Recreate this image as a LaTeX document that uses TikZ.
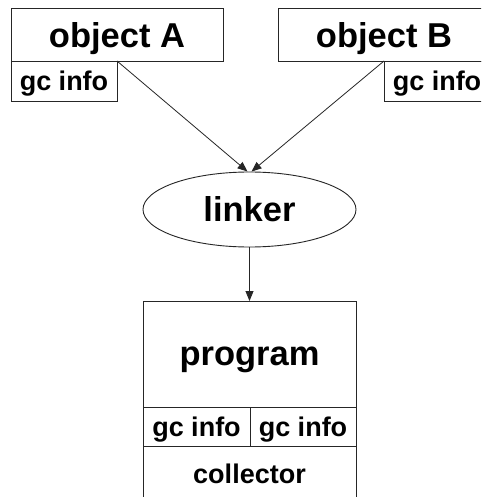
\documentclass[tikz,border=0pt]{standalone}
\usepackage{fontspec}
\setmainfont{Liberation Sans}
\usetikzlibrary{arrows.meta,shapes.geometric}
\tikzset{
  x=1pt, y=-1pt,
  frame/.style={draw=black!85, line width=0.9pt, rectangle, inner sep=0pt, outer sep=0pt},
  bigtext/.style={font=\fontsize{34.5}{34.5}\selectfont\bfseries, text height=25pt, text depth=0pt},
  smalltext/.style={font=\fontsize{27}{27}\selectfont\bfseries, text height=20pt, text depth=0pt},
  link/.style={draw=black!85, line width=0.8pt, -{Triangle[length=10pt,width=8pt]}},
}
\begin{document}
\begin{tikzpicture}
\clip (0,0) rectangle (481,497);
\fill[white] (0,0) rectangle (481,497);

% source objects with their gc info tabs
\node[frame, bigtext, minimum width=212pt, minimum height=52.5pt] (objA) at (117,34.75) {object A};
\node[frame, smalltext, minimum width=106pt, minimum height=40pt] (gcA) at (64,81) {gc info};
\node[frame, bigtext, minimum width=212pt, minimum height=52.5pt] (objB) at (384,34.75) {object B};
\node[frame, smalltext, minimum width=106pt, minimum height=40pt] (gcB) at (437,81) {gc info};

% linker
\node[draw=black!85, line width=0.9pt, ellipse, inner sep=0pt, minimum width=213pt, minimum height=75pt,
      font=\fontsize{34.5}{34.5}\selectfont\bfseries, text height=24pt, text depth=0pt] (linker) at (249.5,209.5) {linker};

% resulting program with collector
\node[frame, bigtext, text height=22pt, minimum width=213pt, minimum height=106pt] (prog) at (249.5,354) {program};
\node[frame, smalltext, minimum width=107pt, minimum height=39pt] (gc1) at (196.5,426.5) {gc info};
\node[frame, smalltext, minimum width=106pt, minimum height=39pt] (gc2) at (303,426.5) {gc info};
\node[frame, smalltext, text height=18pt, minimum width=213pt, minimum height=56pt] (coll) at (249.5,474) {collector};

% connectors
\draw[link] (gcA.north east) -- ([xshift=-2pt]linker.north);
\draw[link] (gcB.north west) -- ([xshift=2pt]linker.north);
\draw[link] (linker.south) -- (prog.north);
\end{tikzpicture}
\end{document}
